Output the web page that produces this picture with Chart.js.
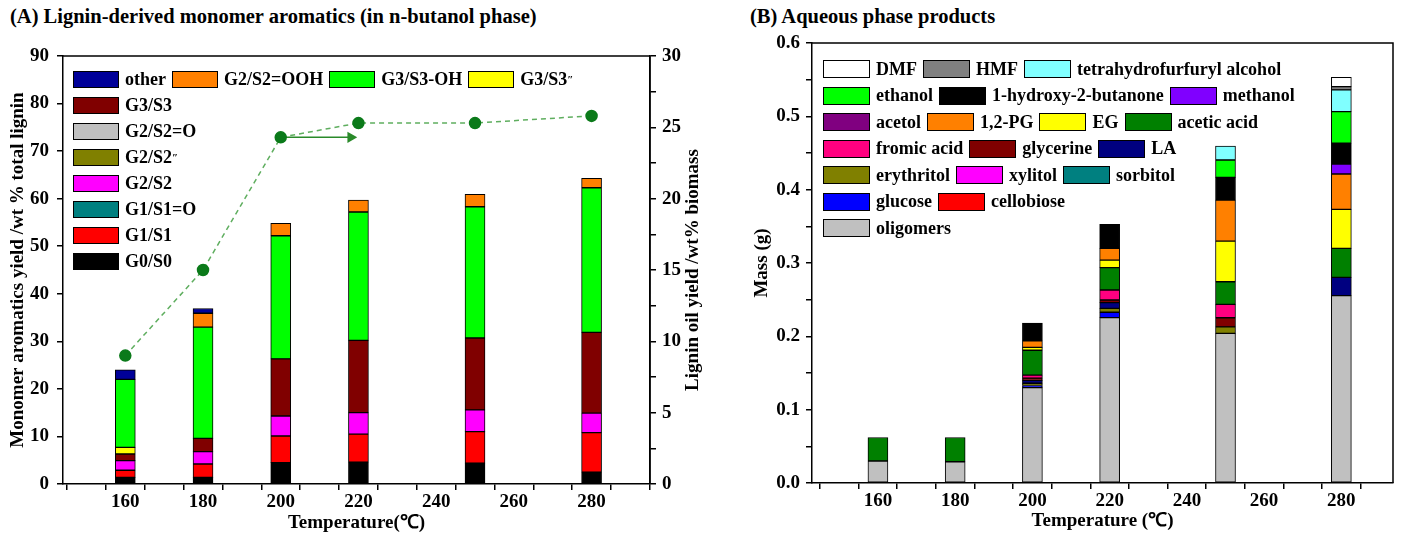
<!DOCTYPE html>
<html>
<head>
<meta charset="utf-8">
<script src="https://cdn.jsdelivr.net/npm/chart.js@4"></script>
<style>
  body { margin: 0; background: #fff; }
  #wrap { position: relative; width: 1403px; height: 535px; font-family: 'Liberation Serif', 'Times New Roman', serif; font-weight: bold; color: #000; }
  canvas { position: absolute; top: 0; }
  .ttl { position: absolute; top: 5px; font-size: 20.5px; white-space: nowrap; }
  .lg { position: absolute; font-size: 18px; }
  .row { display: flex; align-items: center; white-space: nowrap; }
  .it { display: flex; align-items: center; margin-right: 6px; }
  .sw { border: 1px solid #000; box-sizing: border-box; margin-right: 6px; }
  sup { font-size: 11px; line-height: 0; vertical-align: 7px; }
</style>
</head>
<body>
<div id="wrap">
  <div class="ttl" style="left:10px">(A) Lignin-derived monomer aromatics (in n-butanol phase)</div>
  <div class="ttl" style="left:750px">(B) Aqueous phase products</div>
  <canvas id="chartA" width="705" height="535" style="left:0"></canvas>
  <canvas id="chartB" width="698" height="535" style="left:705px"></canvas>
  <div class="lg" id="legA" style="left:73px;top:66px"></div>
  <div class="lg" id="legB" style="left:823px;top:56px"></div>
</div>
<script>
const temps = [160, 180, 200, 220, 250, 280];

// (A) monomer aromatics, wt% of total lignin (stacked bottom -> top)
const g0s0    = [1.4, 1.4, 4.5, 4.6, 4.4, 2.5];
const g1s1    = [1.5, 2.8, 5.6, 5.9, 6.6, 8.3];
const g1s1o   = [0, 0, 0, 0, 0, 0];
const g2s2    = [2.0, 2.6, 4.2, 4.5, 4.6, 4.1];
const g2s2dd  = [0, 0, 0, 0, 0, 0];
const g2s2o   = [0, 0, 0, 0, 0, 0];
const g3s3    = [1.4, 2.8, 12.0, 15.2, 15.1, 17.0];
const g3s3dd  = [1.4, 0, 0, 0, 0, 0];
const g3s3oh  = [14.3, 23.4, 25.9, 27.0, 27.6, 30.4];
const g2s2ooh = [0, 2.9, 2.6, 2.5, 2.6, 2.0];
const other   = [2.0, 1.0, 0, 0, 0, 0];
// lignin oil yield, wt% biomass (right axis)
const oilYield = [9.0, 15.0, 24.3, 25.3, 25.3, 25.8];
const arrowX = [200, 218];
const arrowY = [24.3, 24.3];

// (B) aqueous phase products, g (stacked bottom -> top)
const oligomers  = [0.030, 0.029, 0.130, 0.2255, 0.204, 0.2555];
const cellobiose = [0, 0, 0, 0, 0, 0];
const glucose    = [0, 0, 0.003, 0.0073, 0, 0];
const sorbitol   = [0, 0, 0, 0, 0, 0];
const xylitol    = [0, 0, 0, 0, 0, 0];
const erythritol = [0, 0, 0.003, 0.0054, 0.009, 0];
const la         = [0, 0, 0.004, 0.0077, 0, 0.025];
const glycerine  = [0, 0, 0.003, 0.0036, 0.0123, 0];
const fromic     = [0, 0, 0.004, 0.0137, 0.0183, 0];
const acetic     = [0.032, 0.033, 0.034, 0.0304, 0.0308, 0.0395];
const eg         = [0, 0, 0.004, 0.0104, 0.0555, 0.0532];
const pg12       = [0, 0, 0.009, 0.016, 0.0559, 0.0482];
const acetol     = [0, 0, 0, 0, 0, 0];
const methanol   = [0, 0, 0, 0, 0, 0.0136];
const hydroxyBut = [0, 0, 0.024, 0.0328, 0.031, 0.0283];
const ethanol    = [0, 0, 0, 0, 0.0236, 0.0431];
const thfa       = [0, 0, 0, 0, 0.0191, 0.0296];
const hmf        = [0, 0, 0, 0, 0, 0.0045];
const dmf        = [0, 0, 0, 0, 0, 0.0127];

const xTicksA = [150, 160, 170, 180, 190, 200, 210, 220, 230, 240, 250, 260, 270, 280, 290];
const xTicksB = [150, 160, 170, 180, 190, 200, 210, 220, 230, 240, 250, 260, 270, 280];
const yTicksB = [0, 0.05, 0.1, 0.15, 0.2, 0.25, 0.3, 0.35, 0.4, 0.45, 0.5, 0.55, 0.6];

const seriesA = [
  ["G0/S0", g0s0], ["G1/S1", g1s1], ["G1/S1=O", g1s1o], ["G2/S2", g2s2],
  ["G2/S2″", g2s2dd], ["G2/S2=O", g2s2o], ["G3/S3", g3s3], ["G3/S3″", g3s3dd],
  ["G3/S3-OH", g3s3oh], ["G2/S2=OOH", g2s2ooh], ["other", other]
];
const colorsA = {
  "G0/S0": "#000000", "G1/S1": "#ff0000", "G1/S1=O": "#008080", "G2/S2": "#ff00ff",
  "G2/S2″": "#808000", "G2/S2=O": "#c0c0c0", "G3/S3": "#800000", "G3/S3″": "#ffff00",
  "G3/S3-OH": "#00ff00", "G2/S2=OOH": "#ff8000", "other": "#000099"
};
const legendRowsA = [
  ["other", "G2/S2=OOH", "G3/S3-OH", "G3/S3″"], ["G3/S3"], ["G2/S2=O"], ["G2/S2″"],
  ["G2/S2"], ["G1/S1=O"], ["G1/S1"], ["G0/S0"]
];

const seriesB = [
  ["oligomers", oligomers], ["cellobiose", cellobiose], ["glucose", glucose], ["sorbitol", sorbitol],
  ["xylitol", xylitol], ["erythritol", erythritol], ["LA", la], ["glycerine", glycerine],
  ["fromic acid", fromic], ["acetic acid", acetic], ["EG", eg], ["1,2-PG", pg12],
  ["acetol", acetol], ["methanol", methanol], ["1-hydroxy-2-butanone", hydroxyBut],
  ["ethanol", ethanol], ["tetrahydrofurfuryl alcohol", thfa], ["HMF", hmf], ["DMF", dmf]
];
const colorsB = {
  "oligomers": "#c0c0c0", "cellobiose": "#ff0000", "glucose": "#0000ff", "sorbitol": "#008080",
  "xylitol": "#ff00ff", "erythritol": "#808000", "LA": "#000080", "glycerine": "#800000",
  "fromic acid": "#ff0080", "acetic acid": "#008000", "EG": "#ffff00", "1,2-PG": "#ff8000",
  "acetol": "#800080", "methanol": "#8000ff", "1-hydroxy-2-butanone": "#000000",
  "ethanol": "#00ff00", "tetrahydrofurfuryl alcohol": "#80ffff", "HMF": "#808080", "DMF": "#ffffff"
};
const legendRowsB = [
  ["DMF", "HMF", "tetrahydrofurfuryl alcohol"],
  ["ethanol", "1-hydroxy-2-butanone", "methanol"],
  ["acetol", "1,2-PG", "EG", "acetic acid"],
  ["fromic acid", "glycerine", "LA"],
  ["erythritol", "xylitol", "sorbitol"],
  ["glucose", "cellobiose"],
  ["oligomers"]
];

Chart.defaults.font.family = "'Liberation Serif', 'Times New Roman', serif";
Chart.defaults.font.weight = "bold";
Chart.defaults.font.size = 19;
Chart.defaults.color = "#000";

const frame = {
  id: "frame",
  afterDatasetsDraw(c) {
    const a = c.chartArea, ctx = c.ctx;
    ctx.save();
    ctx.strokeStyle = "#000";
    ctx.lineWidth = 1.5;
    ctx.beginPath();
    ctx.moveTo(a.left, a.top);
    ctx.lineTo(a.right, a.top);
    ctx.lineTo(a.right, a.bottom);
    ctx.stroke();
    ctx.restore();
  }
};

// right-axis title reads bottom to top, like the left one
const rightTitle = {
  id: "rightTitle",
  afterDraw(c) {
    const s = c.scales.y2, a = c.chartArea, ctx = c.ctx;
    ctx.save();
    ctx.translate(s.right - 11, (a.top + a.bottom) / 2);
    ctx.rotate(-Math.PI / 2);
    ctx.font = "bold 19px 'Liberation Serif', 'Times New Roman', serif";
    ctx.fillStyle = "#000";
    ctx.textAlign = "center";
    ctx.textBaseline = "middle";
    ctx.fillText("Lignin oil yield /wt% biomass", 0, 0);
    ctx.restore();
  }
};

function barSets(series, colors) {
  return series.map(([name, vals]) => ({
    type: "bar",
    label: name,
    data: temps.map((t, i) => ({ x: t, y: vals[i] })).filter(p => p.y > 0),
    backgroundColor: colors[name],
    borderColor: "#000",
    borderWidth: 1,
    borderSkipped: false,
    barThickness: 20,
    order: 2
  }));
}

function axisGrid() {
  return { drawOnChartArea: false, color: "#000", lineWidth: 1.5, tickLength: 6 };
}

new Chart(document.getElementById("chartA"), {
  type: "bar",
  data: {
    datasets: [
      ...barSets(seriesA, colorsA),
      {
        type: "line",
        label: "Lignin oil yield",
        data: temps.map((t, i) => ({ x: t, y: oilYield[i] })),
        yAxisID: "y2",
        borderColor: "#5fae5f",
        borderWidth: 1.5,
        borderDash: [5, 4],
        pointRadius: 5.5,
        pointBackgroundColor: "#0b7a1a",
        pointBorderColor: "#0b7a1a",
        order: 0
      },
      {
        type: "line",
        label: "arrow",
        data: arrowX.map((x, i) => ({ x, y: arrowY[i] })),
        yAxisID: "y2",
        borderColor: "#2a8a2a",
        borderWidth: 1.5,
        pointRadius: [0, 5],
        pointStyle: "triangle",
        rotation: 90,
        pointBackgroundColor: "#2a8a2a",
        pointBorderColor: "#2a8a2a",
        order: 0
      }
    ]
  },
  options: {
    responsive: false,
    animation: false,
    layout: { padding: { left: 7, top: 56, right: 1, bottom: 1 } },
    plugins: { legend: { display: false }, tooltip: { enabled: false } },
    scales: {
      x: {
        type: "linear", min: 149, max: 290, stacked: true,
        afterBuildTicks: s => { s.ticks = xTicksA.map(v => ({ value: v })); },
        afterFit: s => { s.height = 50; },
        ticks: { autoSkip: false, maxRotation: 0, padding: 1, callback: v => (v % 20 === 0 ? v : "") },
        grid: axisGrid(),
        border: { color: "#000", width: 1.5 },
        title: { display: true, text: "Temperature(℃)", padding: 0 }
      },
      y: {
        min: 0, max: 90, stacked: true,
        afterFit: s => { s.width = 56; },
        ticks: { stepSize: 5, padding: 8, callback: v => (v % 10 === 0 ? v : "") },
        grid: axisGrid(),
        border: { color: "#000", width: 1.5 },
        title: { display: true, text: "Monomer aromatics yield /wt % total lignin", padding: 0 }
      },
      y2: {
        position: "right", min: 0, max: 30,
        afterFit: s => { s.width = 54; },
        ticks: { stepSize: 2.5, padding: 6, callback: v => (v % 5 === 0 ? v : "") },
        grid: axisGrid(),
        border: { color: "#000", width: 1.5 }
      }
    }
  },
  plugins: [frame, rightTitle]
});

new Chart(document.getElementById("chartB"), {
  type: "bar",
  data: { datasets: barSets(seriesB, colorsB) },
  options: {
    responsive: false,
    animation: false,
    layout: { padding: { left: 46, top: 43, right: 10, bottom: 3 } },
    plugins: { legend: { display: false }, tooltip: { enabled: false } },
    scales: {
      x: {
        type: "linear", min: 148.3, max: 288, stacked: true,
        afterBuildTicks: s => { s.ticks = xTicksB.map(v => ({ value: v })); },
        afterFit: s => { s.height = 49; },
        ticks: { autoSkip: false, maxRotation: 0, padding: 1, callback: v => (v % 20 === 0 ? v : "") },
        grid: axisGrid(),
        border: { color: "#000", width: 1.5 },
        title: { display: true, text: "Temperature (℃)", padding: 0 }
      },
      y: {
        min: 0, max: 0.6, stacked: true,
        afterBuildTicks: s => { s.ticks = yTicksB.map(v => ({ value: v })); },
        afterFit: s => { s.width = 61; },
        ticks: { padding: 6, callback: v => (Math.round(v * 100) % 10 === 0 ? v.toFixed(1) : "") },
        grid: axisGrid(),
        border: { color: "#000", width: 1.5 },
        title: { display: true, text: "Mass (g)", padding: 0 }
      }
    }
  },
  plugins: [frame]
});

function label(n) {
  return n.replace("″", "<sup>″</sup>");
}

function buildLegend(el, rows, colors, rowH, swW, swH) {
  rows.forEach(r => {
    const row = document.createElement("div");
    row.className = "row";
    row.style.height = rowH + "px";
    row.innerHTML = r.map(n =>
      `<span class="it"><span class="sw" style="width:${swW}px;height:${swH}px;background:${colors[n]}"></span>${label(n)}</span>`
    ).join("");
    el.appendChild(row);
  });
}

buildLegend(document.getElementById("legA"), legendRowsA, colorsA, 26.1, 46, 17);
buildLegend(document.getElementById("legB"), legendRowsB, colorsB, 26.5, 47, 18);
</script>
</body>
</html>
